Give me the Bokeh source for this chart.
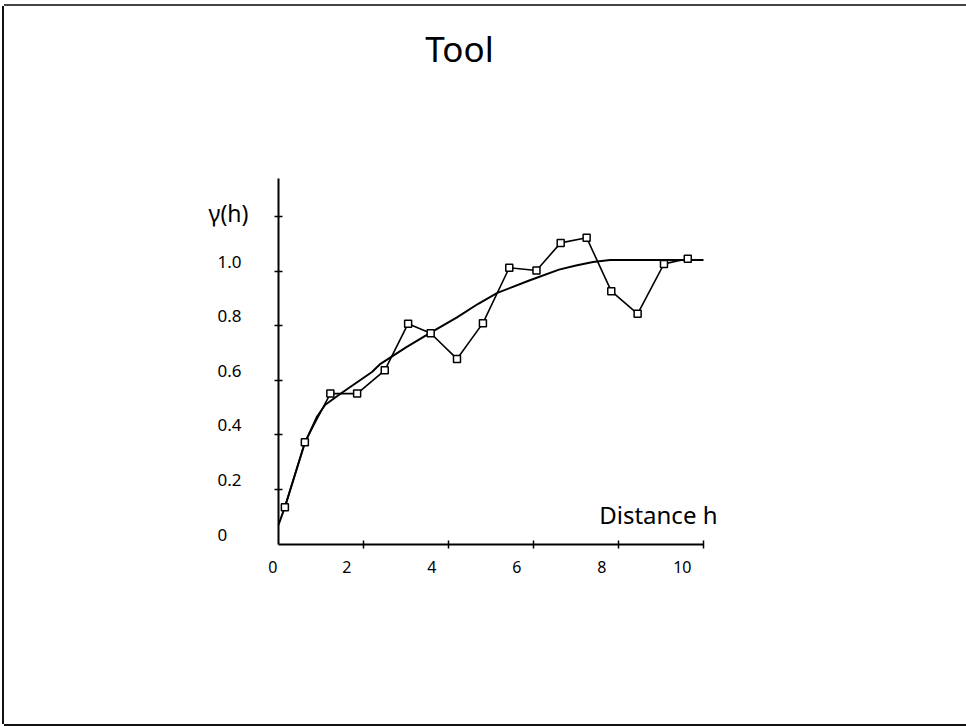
from bokeh.plotting import figure
from bokeh.models import (Range1d, FixedTicker, LabelSet, Label, ColumnDataSource,
                          CustomJSTickFormatter, LinearAxis)
from bokeh.embed import file_html
from bokeh.resources import INLINE
from bokeh.core.properties import value

# ---- data ----
lag_h = [0.15, 0.62, 1.22, 1.85, 2.50, 3.05, 3.58, 4.20, 4.81, 5.43, 6.07, 6.64, 7.25, 7.83, 8.45, 9.07, 9.63]
gamma_exp = [0.135, 0.373, 0.551, 0.551, 0.636, 0.807, 0.772, 0.678, 0.809, 1.012, 1.002, 1.103, 1.122, 0.926, 0.843, 1.026, 1.045]

model_h = [0.0, 0.15, 0.62, 0.90, 1.10, 1.50, 2.20, 2.40, 3.00, 3.60, 4.20, 4.70, 5.15, 5.90, 6.60, 7.00, 7.40, 7.80, 8.50, 10.0]
model_g = [0.07, 0.135, 0.37, 0.465, 0.51, 0.555, 0.63, 0.66, 0.72, 0.776, 0.83, 0.88, 0.92, 0.965, 1.005, 1.02, 1.033, 1.04, 1.04, 1.04]

x_ticks = [2, 4, 6, 8, 10]
x_label_values = [0, 2, 4, 6, 8, 10]
x_labels = ["0", "2", "4", "6", "8", "10"]
y_ticks = [0.2, 0.4, 0.6, 0.8, 1.0, 1.2]
y_label_values = [0, 0.2, 0.4, 0.6, 0.8, 1.0]
y_labels = ["0", "0.2", "0.4", "0.6", "0.8", "1.0"]
x_axis_bounds = (0, 10)
y_axis_bounds = (0, 1.337)

title_text = "Tool"
x_title = "Distance h"
y_title = "\u03b3(h)"

FONT = "Noto Sans"

# ---- layout (pixels) ----
CANVAS_W, CANVAS_H = 962, 718
ORIGIN_X, ORIGIN_Y = 274.0, 537.5      # canvas position of data (0, 0)
PX_X, PX_Y = 42.5, 273.0               # pixels per data unit

p = figure(
    width=CANVAS_W, height=CANVAS_H,
    min_border=0, min_border_left=0, min_border_right=0,
    min_border_top=0, min_border_bottom=0,
    x_range=Range1d(-ORIGIN_X / PX_X, (CANVAS_W - ORIGIN_X) / PX_X),
    y_range=Range1d(-(CANVAS_H - ORIGIN_Y) / PX_Y, ORIGIN_Y / PX_Y),
    x_axis_location=None, y_axis_location=None,
    output_backend="svg", toolbar_location=None,
)
# page frame: left, top and bottom rules (the right one lies outside the picture)
p.styles = {
    "margin-left": "4px", "margin-top": "6px",
    "box-shadow": "-2px 0 0 0 #111111, 0 -2px 0 0 #444444, 0 2px 0 0 #111111",
}
p.outline_line_color = None
p.xgrid.visible = False
p.ygrid.visible = False
p.background_fill_color = "white"
p.border_fill_color = "white"

blank = CustomJSTickFormatter(code="return ''")
xaxis = LinearAxis(fixed_location=0, bounds=x_axis_bounds, ticker=FixedTicker(ticks=x_ticks))
yaxis = LinearAxis(fixed_location=0, bounds=y_axis_bounds, ticker=FixedTicker(ticks=y_ticks))
for ax in (xaxis, yaxis):
    ax.formatter = blank
    ax.major_tick_in = 4
    ax.major_tick_out = 4
    ax.minor_tick_line_color = None
    ax.axis_line_width = 2
    ax.axis_line_color = "black"
    ax.major_tick_line_width = 1.5
    ax.major_tick_line_color = "black"
p.add_layout(xaxis, "below")
p.add_layout(yaxis, "left")

# model curve
p.line(model_h, model_g, line_color="black", line_width=2)
# experimental variogram
p.line(lag_h, gamma_exp, line_color="black", line_width=1.6)
p.scatter(lag_h, gamma_exp, marker="square", size=7, line_color="black",
          line_width=1.5, fill_color="white")

# tick labels (offset from ticks as in the reference)
xsrc = ColumnDataSource(dict(
    x=x_label_values, y=[0] * len(x_label_values), text=x_labels,
    xo=[-1 if v == 0 else -12 for v in x_label_values],
))
p.add_layout(LabelSet(x="x", y="y", text="text", source=xsrc, x_offset="xo", y_offset=-28.5,
                      text_align="right", text_baseline="alphabetic",
                      text_font=value(FONT), text_font_size="16px", text_color="black"))

ysrc = ColumnDataSource(dict(x=[0] * len(y_label_values), y=y_label_values, text=y_labels))
p.add_layout(LabelSet(x="x", y="y", text="text", source=ysrc, x_offset=-61, y_offset=3.5,
                      text_align="left", text_baseline="alphabetic",
                      text_font=value(FONT), text_font_size="17px", text_color="black"))

p.add_layout(Label(x=0, y=1.2, text=y_title, x_offset=-50, y_offset=3.7,
                   text_align="center", text_baseline="alphabetic",
                   text_font=FONT, text_font_size="23px", text_color="black"))

p.add_layout(Label(x=10, y=0, text=x_title, x_offset=14, y_offset=29.5,
                   text_align="right", text_baseline="alphabetic",
                   text_font=FONT, text_font_size="24px", text_color="black"))

p.add_layout(Label(x=5, y=y_axis_bounds[1], text=title_text, x_offset=-31.5, y_offset=130,
                   text_align="center", text_baseline="alphabetic",
                   text_font=FONT, text_font_size="35px", text_color="black"))

open("out.html", "w").write(file_html(p, INLINE))
